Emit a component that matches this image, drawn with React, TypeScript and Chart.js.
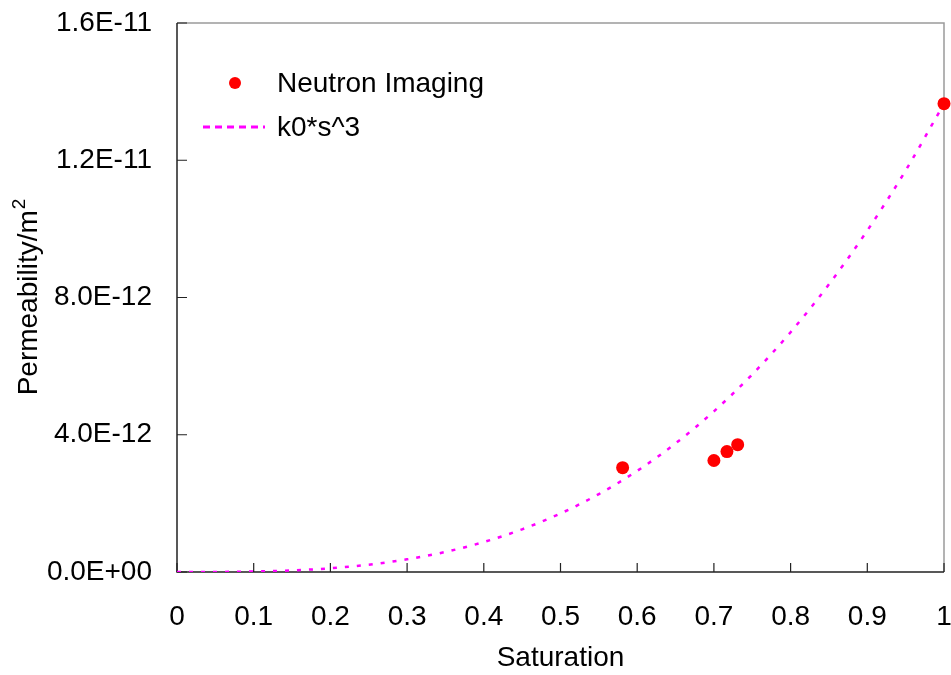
import React, { useEffect, useRef } from "react";
import { Chart, registerables } from "chart.js";

Chart.register(...registerables);

// Measured data (Neutron Imaging)
const saturationPoints = [0.581, 0.7, 0.717, 0.731, 1.0];
const permeabilityPoints = [3.04e-12, 3.25e-12, 3.51e-12, 3.71e-12, 13.65e-12];

// Fit curve k0*s^3
const fitSaturation = [0, 0.05, 0.1, 0.15, 0.2, 0.25, 0.3, 0.35, 0.4, 0.45, 0.5, 0.55, 0.6, 0.65, 0.7, 0.75, 0.8, 0.85, 0.9, 0.95, 1.0];
const fitPermeability = [0, 0.0017e-12, 0.0137e-12, 0.046e-12, 0.109e-12, 0.213e-12, 0.369e-12, 0.585e-12, 0.874e-12, 1.244e-12, 1.706e-12, 2.271e-12, 2.948e-12, 3.749e-12, 4.682e-12, 5.759e-12, 6.989e-12, 8.383e-12, 9.951e-12, 11.703e-12, 13.65e-12];

const xTickLabels = ["0", "0.1", "0.2", "0.3", "0.4", "0.5", "0.6", "0.7", "0.8", "0.9", "1"];
const yTickLabels = ["0.0E+00", "4.0E-12", "8.0E-12", "1.2E-11", "1.6E-11"];

const seriesNames = ["Neutron Imaging", "k0*s^3"];
const xTitle = "Saturation";
const yTitleMain = "Permeability/m";
const yTitleSup = "2";

const FONT = "'Liberation Sans', Arial, sans-serif";
const FS = 28;

const framePlugin = {
  id: "frame",
  beforeDatasetsDraw(chart: any) {
    const { ctx, chartArea } = chart;
    const { left, right, top, bottom } = chartArea;
    ctx.save();
    ctx.strokeStyle = "#9a9a9a";
    ctx.lineWidth = 1.5;
    ctx.beginPath();
    ctx.moveTo(left, top);
    ctx.lineTo(right, top);
    ctx.lineTo(right, bottom);
    ctx.stroke();
    ctx.strokeStyle = "#222";
    ctx.beginPath();
    ctx.moveTo(left, top);
    ctx.lineTo(left, bottom);
    ctx.lineTo(right, bottom);
    ctx.stroke();
    const xs = chart.scales.x;
    const ys = chart.scales.y;
    ctx.lineWidth = 1.2;
    ctx.beginPath();
    xs.ticks.forEach((t: any) => {
      const px = xs.getPixelForValue(t.value);
      ctx.moveTo(px, bottom);
      ctx.lineTo(px, bottom - 9);
    });
    ys.ticks.forEach((t: any) => {
      const py = ys.getPixelForValue(t.value);
      ctx.moveTo(left, py);
      ctx.lineTo(left + 10, py);
    });
    ctx.stroke();
    ctx.restore();
  },
};

const textPlugin = {
  id: "texts",
  afterDraw(chart: any) {
    const { ctx, chartArea } = chart;
    ctx.save();
    ctx.font = `${FS}px ${FONT}`;
    ctx.textBaseline = "middle";
    // legend
    ctx.fillStyle = "#ff0000";
    ctx.beginPath();
    ctx.arc(235, 83, 6, 0, Math.PI * 2);
    ctx.fill();
    ctx.fillStyle = "#000";
    ctx.fillText(seriesNames[0], 277, 84);
    ctx.strokeStyle = "#ff00ff";
    ctx.lineWidth = 3;
    ctx.setLineDash([7, 5]);
    ctx.beginPath();
    ctx.moveTo(203, 127);
    ctx.lineTo(265, 127);
    ctx.stroke();
    ctx.setLineDash([]);
    ctx.fillText(seriesNames[1], 277, 128);

    // y title with superscript
    const cy = (chartArea.top + chartArea.bottom) / 2;
    ctx.translate(37, cy);
    ctx.rotate(-Math.PI / 2);
    ctx.textBaseline = "alphabetic";
    const supFont = `19px ${FONT}`;
    const wMain = ctx.measureText(yTitleMain).width;
    ctx.font = supFont;
    const wSup = ctx.measureText(yTitleSup).width;
    const startX = -(wMain + wSup) / 2;
    ctx.font = `${FS}px ${FONT}`;
    ctx.fillText(yTitleMain, startX, 0);
    ctx.font = supFont;
    ctx.fillText(yTitleSup, startX + wMain + 1, -12);
    ctx.restore();
  },
};

export default function App() {
  const ref = useRef<HTMLCanvasElement>(null);

  useEffect(() => {
    if (!ref.current) return;
    const chart = new Chart(ref.current, {
      type: "scatter",
      data: {
        datasets: [
          {
            label: seriesNames[0],
            data: saturationPoints.map((s, i) => ({ x: s, y: permeabilityPoints[i] })),
            backgroundColor: "#ff0000",
            borderColor: "#ff0000",
            pointRadius: 6.5,
            pointBorderWidth: 0,
            clip: false,
          } as any,
          {
            label: seriesNames[1],
            data: fitSaturation.map((s, i) => ({ x: s, y: fitPermeability[i] })),
            showLine: true,
            borderColor: "#ff00ff",
            borderWidth: 2.5,
            borderDash: [4, 8],
            pointRadius: 0,
            cubicInterpolationMode: "monotone",
            fill: false,
          } as any,
        ],
      },
      options: {
        responsive: false,
        animation: false,
        devicePixelRatio: 1,
        layout: { padding: { top: 23, right: 7, bottom: 0, left: 0 } },
        plugins: {
          legend: { display: false },
          tooltip: { enabled: false },
        },
        scales: {
          x: {
            type: "linear",
            min: 0,
            max: 1,
            grid: { display: false, drawTicks: false },
            border: { display: false },
            ticks: {
              stepSize: 0.1,
              padding: 28,
              color: "#000",
              font: { family: FONT, size: FS },
              maxRotation: 0,
              autoSkip: false,
              callback: (_v: any, i: number) => xTickLabels[i],
            },
            title: {
              display: true,
              text: xTitle,
              color: "#000",
              font: { family: FONT, size: FS },
              padding: { top: 0, bottom: 0 },
            },
            afterFit: (s: any) => {
              s.height = 103;
              s.paddingLeft = 0;
              s.paddingRight = 0;
            },
          },
          y: {
            type: "linear",
            min: 0,
            max: 1.6e-11,
            grid: { display: false, drawTicks: false },
            border: { display: false },
            ticks: {
              stepSize: 4e-12,
              padding: 25,
              color: "#000",
              font: { family: FONT, size: FS },
              autoSkip: false,
              callback: (_v: any, i: number) => yTickLabels[i],
            },
            title: { display: false },
            afterFit: (s: any) => {
              s.width = 177;
              s.paddingTop = 0;
              s.paddingBottom = 0;
            },
          },
        },
      } as any,
      plugins: [framePlugin, textPlugin],
    });
    return () => chart.destroy();
  }, []);

  return (
    <div style={{ position: "fixed", left: 0, top: 0, width: 951, height: 675, background: "#fff" }}>
      <canvas ref={ref} width={951} height={675} style={{ display: "block" }} />
    </div>
  );
}
